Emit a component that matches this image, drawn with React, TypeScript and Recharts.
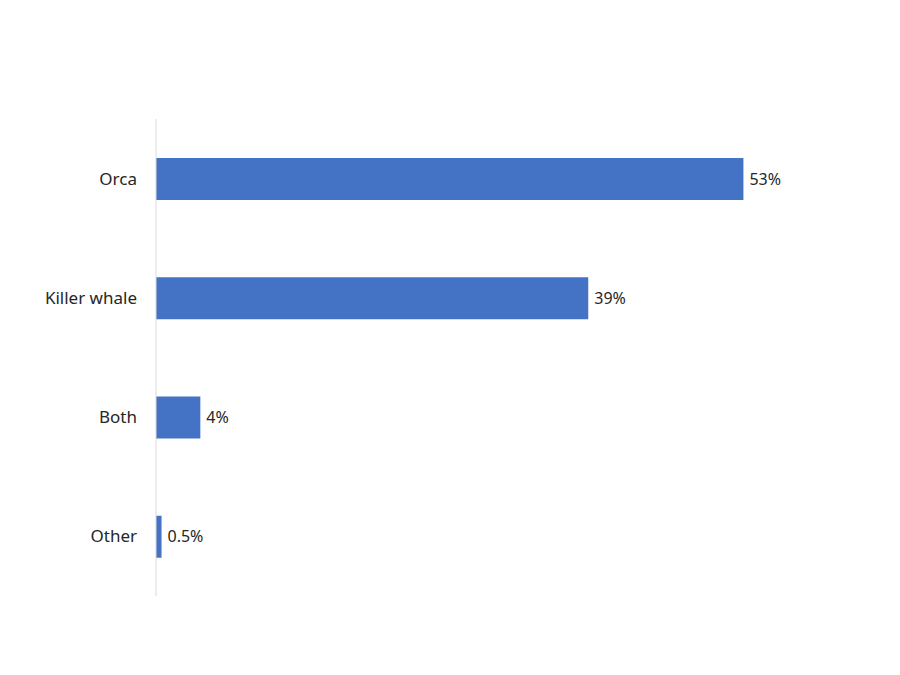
import { BarChart, Bar, XAxis, YAxis, LabelList } from 'recharts';

const categories = ['Orca', 'Killer whale', 'Both', 'Other'];
const shares = [53, 39, 4, 0.5];
const shareLabels = ['53%', '39%', '4%', '0.5%'];

const data = categories.map((name, i) => ({
  name,
  value: shares[i],
  label: shareLabels[i],
}));

const font = '"Noto Sans", "Open Sans", sans-serif';

export default function App() {
  return (
    <div style={{ position: 'absolute', left: 0, top: 0, background: '#fff' }}>
      <BarChart
        width={900}
        height={675}
        data={data}
        layout="vertical"
        margin={{ top: 119, right: 79, bottom: 79, left: 0 }}
        barCategoryGap={0}
      >
        <XAxis type="number" domain={[0, 60]} hide />
        <YAxis
          type="category"
          dataKey="name"
          width={156}
          axisLine={{ stroke: '#d9d9d9' }}
          tickLine={false}
          tickMargin={13}
          tick={{ fill: '#262626', fontSize: 17, fontFamily: font }}
        />
        <Bar dataKey="value" fill="#4472c4" barSize={42} isAnimationActive={false}>
          <LabelList
            dataKey="label"
            position="right"
            offset={6}
            fill="#262626"
            fontSize={16}
            fontFamily={font}
          />
        </Bar>
      </BarChart>
    </div>
  );
}
